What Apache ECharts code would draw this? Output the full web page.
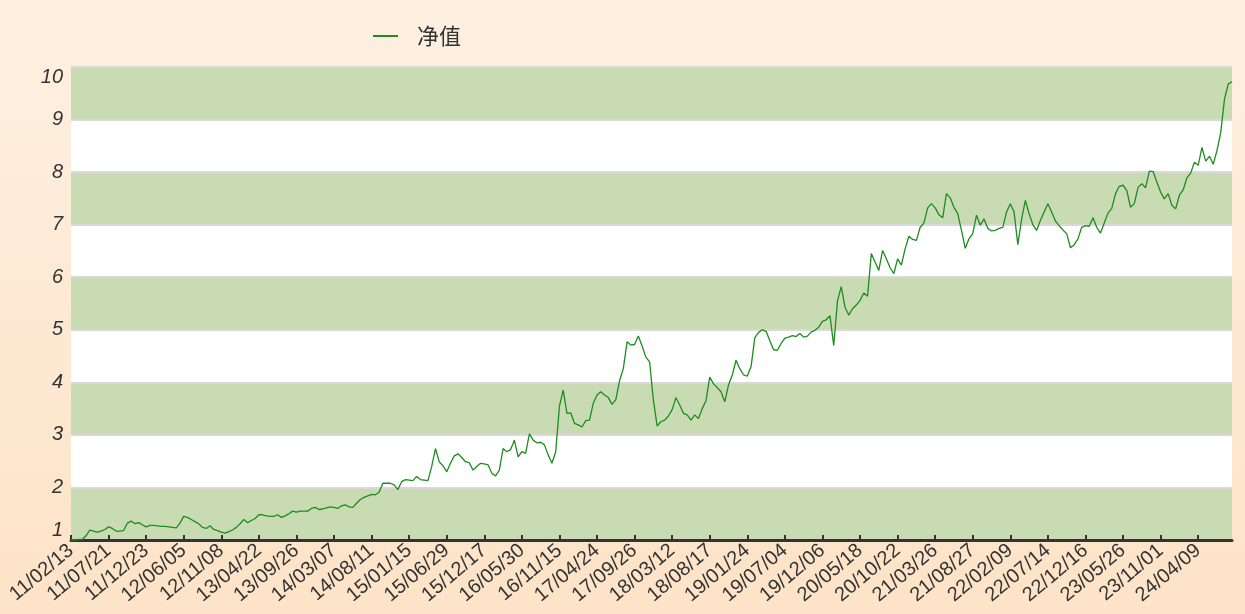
<!DOCTYPE html>
<html><head><meta charset="utf-8">
<script src="https://cdn.jsdelivr.net/npm/echarts@6/dist/echarts.min.js"></script>
<style>html,body{margin:0;padding:0;background:#fdeedd}#c{width:1245px;height:614px}</style>
</head><body><div id="c"></div><script>
// Tick labels (every 10th category)
const tickLabels = ['11/02/13','11/07/21','11/12/23','12/06/05','12/11/08','13/04/22','13/09/26','14/03/07','14/08/11','15/01/15','15/06/29','15/12/17','16/05/30','16/11/15','17/04/24','17/09/26','18/03/12','18/08/17','19/01/24','19/07/04','19/12/06','20/05/18','20/10/22','21/03/26','21/08/27','22/02/09','22/07/14','22/12/16','23/05/26','23/11/01','24/04/09'];
const endDate = '24/08/30';
const pointsPerTick = 10;

// Net value series
const navA = [1.00,1.00,1.01,1.01,1.08,1.19,1.17,1.15,1.17,1.20,1.25,1.22,1.17,1.17,1.18,1.32,1.36,1.31,1.33,1.29,1.25,1.28,1.28,1.27,1.26,1.26,1.25,1.24,1.23,1.32,1.45,1.43,1.39,1.35,1.31,1.24,1.22,1.27,1.20,1.18,1.15,1.13,1.16,1.19,1.24,1.31,1.39,1.33,1.37,1.41];
const navB = [1.48,1.48,1.46,1.45,1.45,1.48,1.43,1.46,1.50,1.55,1.53,1.55,1.55,1.55,1.60,1.62,1.58,1.59,1.61,1.63,1.62,1.60,1.65,1.67,1.63,1.62,1.70,1.77,1.81,1.84,1.87,1.86,1.91,2.08,2.08,2.08,2.05,1.96,2.11,2.15,2.14,2.13,2.21,2.15,2.14,2.13,2.40,2.74,2.49,2.41];
const navC = [2.30,2.46,2.60,2.64,2.57,2.49,2.47,2.33,2.40,2.46,2.45,2.43,2.27,2.22,2.33,2.74,2.68,2.72,2.90,2.58,2.68,2.65,3.02,2.90,2.85,2.86,2.81,2.62,2.46,2.68,3.55,3.85,3.41,3.42,3.22,3.19,3.15,3.27,3.28,3.60,3.76,3.82,3.76,3.71,3.58,3.67,4.03,4.26,4.77,4.71];
const navD = [4.72,4.88,4.69,4.48,4.39,3.66,3.17,3.25,3.28,3.36,3.48,3.71,3.57,3.41,3.38,3.28,3.38,3.31,3.50,3.65,4.10,3.97,3.90,3.82,3.63,3.95,4.14,4.42,4.26,4.14,4.12,4.30,4.85,4.95,5.00,4.97,4.79,4.62,4.61,4.74,4.84,4.86,4.89,4.87,4.93,4.86,4.88,4.96,4.99,5.05];
const navE = [5.16,5.19,5.27,4.70,5.55,5.82,5.43,5.28,5.40,5.47,5.56,5.70,5.64,6.45,6.29,6.13,6.51,6.35,6.18,6.07,6.35,6.23,6.54,6.78,6.72,6.70,6.95,7.03,7.32,7.40,7.32,7.19,7.13,7.59,7.51,7.33,7.21,6.89,6.55,6.73,6.83,7.18,6.99,7.11,6.93,6.88,6.89,6.93,6.95,7.24];
const navF = [7.40,7.24,6.62,7.10,7.46,7.21,7.00,6.89,7.08,7.24,7.40,7.24,7.07,6.98,6.90,6.83,6.56,6.62,6.73,6.95,6.98,6.97,7.13,6.95,6.84,7.03,7.22,7.31,7.59,7.73,7.75,7.65,7.33,7.40,7.71,7.78,7.70,8.02,8.01,7.81,7.62,7.49,7.59,7.37,7.30,7.56,7.66,7.89,7.98,8.19];
const navG = [8.13,8.47,8.21,8.30,8.15,8.41,8.75,9.39,9.68,9.72];
const seriesName = '净值';
const yTicks = {min: 1, max: 10, step: 1};

const nav = [].concat(navA, navB, navC, navD, navE, navF, navG);

function parseD(s){const p=s.split('/');return Date.UTC(2000+ +p[0], +p[1]-1, +p[2]);}
function fmtD(t){const d=new Date(t);const p=n=>String(n).padStart(2,'0');return p(d.getUTCFullYear()%100)+'/'+p(d.getUTCMonth()+1)+'/'+p(d.getUTCDate());}
const bounds = tickLabels.concat([endDate]);
const categories = [];
for (let k=0;k<tickLabels.length;k++){
  const a=parseD(bounds[k]), b=parseD(bounds[k+1]);
  for (let j=0;j<pointsPerTick;j++){
    categories.push(j===0?tickLabels[k]:fmtD(a+Math.round((b-a)*j/pointsPerTick/86400000)*86400000));
  }
}

const chart = echarts.init(document.getElementById('c'), null, {renderer:'canvas'});
chart.setOption({
  animation:false,
  backgroundColor:{type:'linear',x:0,y:0,x2:0,y2:1,colorStops:[{offset:0,color:'#fdf0e1'},{offset:1,color:'#fde3c7'}]},
  legend:{
    data:[seriesName], left:368, top:20, icon:'rect', itemWidth:25, itemHeight:2,
    textStyle:{fontSize:22, color:'#333', fontFamily:'Noto Sans CJK SC', padding:[0,0,0,14]}
  },
  grid:{left:71, right:13, top:67, bottom:74, containLabel:false},
  xAxis:{
    type:'category', boundaryGap:false, data:categories,
    axisLine:{lineStyle:{color:'#333', width:3}},
    axisTick:{inside:true, length:5, interval:pointsPerTick-1, lineStyle:{color:'#333', width:2}},
    axisLabel:{interval:pointsPerTick-1, rotate:40, fontSize:20, color:'#333', fontFamily:'Liberation Sans', margin:8},
    splitLine:{show:false}
  },
  yAxis:{
    type:'value', min:yTicks.min, max:yTicks.max, interval:yTicks.step,
    axisLine:{show:false}, axisTick:{show:false},
    splitLine:{lineStyle:{color:'#d9d9d9', width:2}},
    splitArea:{show:true, areaStyle:{color:['#c8dbb3','#ffffff']}},
    axisLabel:{fontSize:20, fontStyle:'italic', color:'#333', fontFamily:'Liberation Sans', margin:8,
      verticalAlignMinLabel:'bottom', verticalAlignMaxLabel:'top'}
  },
  series:[{
    name:seriesName, type:'line', data:nav, showSymbol:false, symbol:'none',
    lineStyle:{color:'#1e8c1e', width:1.3}, itemStyle:{color:'#1e8c1e'}
  }]
});
</script></body></html>
